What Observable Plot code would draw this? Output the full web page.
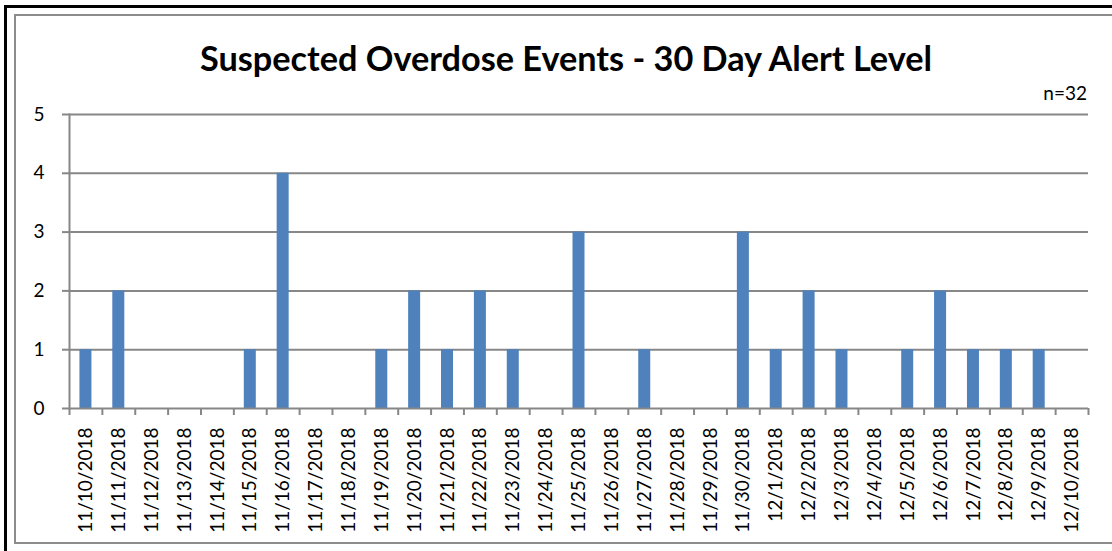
<!DOCTYPE html>
<html><head><meta charset="utf-8">
<script src="https://cdn.jsdelivr.net/npm/d3@7"></script>
<script src="https://cdn.jsdelivr.net/npm/@observablehq/plot@0.6"></script>
<style>
html,body{margin:0;padding:0;background:#fff;}
#wrap{position:relative;width:1112px;height:551px;overflow:hidden;font-family:Lato,sans-serif;background:#fff;}
.b{position:absolute;}
#title{position:absolute;left:200px;top:41px;font-weight:700;font-size:34px;line-height:34px;white-space:nowrap;transform-origin:0 0;color:#000;}
#n{position:absolute;right:25px;top:83px;font-size:19px;line-height:19px;color:#000;}
#chart{position:absolute;left:0;top:100px;}
#chart svg text{font-size:19px !important;font-family:Lato,sans-serif;}
</style></head>
<body><div id="wrap">
 <div class="b" style="left:4px;top:5px;width:1108px;height:3px;background:#000"></div>
 <div class="b" style="left:4px;top:5px;width:3px;height:546px;background:#000"></div>
 <div class="b" style="left:14px;top:14px;width:1098px;height:2px;background:#8c8c8c"></div>
 <div class="b" style="left:14px;top:14px;width:2px;height:530px;background:#8c8c8c"></div>
 <div class="b" style="left:14px;top:542px;width:1098px;height:2px;background:#8c8c8c"></div>
 <div id="title"></div><div id="n"></div><div id="chart"></div>
</div>
<script>
const dates = ["11/10/2018","11/11/2018","11/12/2018","11/13/2018","11/14/2018","11/15/2018","11/16/2018","11/17/2018","11/18/2018","11/19/2018","11/20/2018","11/21/2018","11/22/2018","11/23/2018","11/24/2018","11/25/2018","11/26/2018","11/27/2018","11/28/2018","11/29/2018","11/30/2018","12/1/2018","12/2/2018","12/3/2018","12/4/2018","12/5/2018","12/6/2018","12/7/2018","12/8/2018","12/9/2018","12/10/2018"];
const counts = [1,2,0,0,0,1,4,0,0,1,2,1,2,1,0,3,0,1,0,0,3,1,2,1,0,1,2,1,1,1,0];
const yTicks = [0,1,2,3,4,5];
const titleText = "Suspected Overdose Events - 30 Day Alert Level";
const nLabel = "n=32";

const data = dates.map((d, i) => ({date: d, count: counts[i]}));

const W = 1112, H = 440, ML = 69, MR = 24, MT = 14, MB = 132;
const step = (W - ML - MR) / dates.length;
const gray = "#878787";

const plot = Plot.plot({
  width: W, height: H,
  marginLeft: ML, marginRight: MR, marginTop: MT, marginBottom: MB,
  style: {fontFamily: "Lato, sans-serif", fontSize: "19px", color: "#000", background: "transparent", overflow: "visible"},
  x: {type: "band", domain: dates, paddingInner: 0.635, paddingOuter: 0.3175, round: false, axis: null},
  y: {domain: [0, 5], axis: null},
  marks: [
    Plot.gridY(yTicks.slice(1), {stroke: gray, strokeOpacity: 1, strokeWidth: 2}),
    Plot.frame({anchor: "left", stroke: gray, strokeWidth: 2}),
    Plot.axisY(yTicks, {tickSize: 7, tickPadding: 18, stroke: gray, strokeWidth: 2, fill: "#000", fontSize: 19, label: null, tickFormat: d => String(d)}),
    Plot.barY(data, {x: "date", y: "count", fill: "#4F81BD"}),
    Plot.ruleY([0], {stroke: gray, strokeWidth: 2}),
    Plot.ruleX(dates, {x: d => d, y1: () => 0, y2: () => 0, insetBottom: -7, dx: -step / 2, stroke: gray, strokeWidth: 2}),
    Plot.ruleX(dates.slice(-1), {x: d => d, y1: () => 0, y2: () => 0, insetBottom: -7, dx: step / 2, stroke: gray, strokeWidth: 2}),
    Plot.axisX({tickSize: 0, tickPadding: 19, tickRotate: -90, fill: "#000", fontSize: 19, label: null})
  ]
});
document.getElementById("chart").appendChild(plot);

const t = document.getElementById("title");
t.textContent = titleText;
const w = t.getBoundingClientRect().width;
t.style.transform = `scaleX(${732 / w})`;
document.getElementById("n").textContent = nLabel;
</script>
</body></html>
